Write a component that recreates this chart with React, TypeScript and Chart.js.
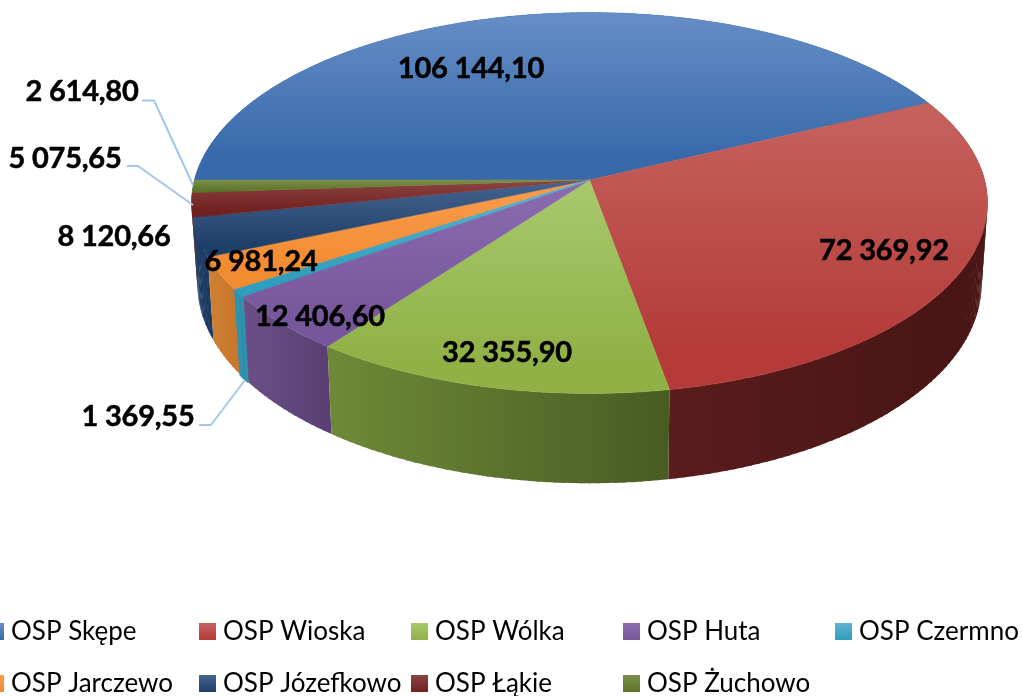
import React, { useEffect, useRef } from "react";
import { Chart, registerables } from "chart.js";

Chart.register(...registerables);

const categories = ["OSP Skępe", "OSP Wioska", "OSP Wólka", "OSP Huta", "OSP Czermno", "OSP Jarczewo", "OSP Józefkowo", "OSP Łąkie", "OSP Żuchowo"];
const amounts = [106144.1, 72369.92, 32355.9, 12406.6, 1369.55, 6981.24, 8120.66, 5075.65, 2614.8];
const valueLabels = ["106 144,10", "72 369,92", "32 355,90", "12 406,60", "1 369,55", "6 981,24", "8 120,66", "5 075,65", "2 614,80"];

// top-face gradient: light, dark
const topLight = ["#668ec6", "#c6635f", "#a8c96d", "#8c6cb0", "#5fb4cf", "#fa9d4e", "#45658f", "#8c4442", "#7b8f4a"];
const topDark = ["#386aab", "#b43b38", "#8fb146", "#77569c", "#2f9dbd", "#f28a30", "#1f3f6b", "#6f201f", "#5d7428"];
// side wall gradient: start of slice, end of slice (clockwise order)
const wallA = ["#2a4f80", "#4a1615", "#485b22", "#5a3f72", "#2c8ea8", "#c8782c", "#1c3a60", "#5a1a18", "#48591f"];
const wallB = ["#2a4f80", "#5a1c1c", "#6e8a38", "#6b5088", "#3092ad", "#d08033", "#1e3e66", "#5a1a18", "#48591f"];
// the thin Czermno slice carries a visible edge in the reference
const edgeWidth = [0, 0, 0, 0, 2.4, 0, 0, 0, 0];

const labelBoxes = [
  [471, 69], [884, 251], [507, 353], [320, 317], [138, 417], [261, 262], [114, 237], [65, 159], [82, 92],
];
const leaders: number[][][] = [
  [[199, 425], [211, 425], [245, 380]],
  [[127, 166], [138, 166], [193, 205]],
  [[142, 100.5], [154, 100.5], [193, 185]],
];
const legendCols = [-13, 199, 411, 623, 835];
const legendRows = [623, 675];

const APEX_X = 589.5, APEX_Y = 180, RX = 395.1, RY = 187.7, K = 0.1207, DEPTH = 80;
const project = (t: number, lower = false) => {
  const u = Math.cos(t), v = Math.sin(t), w = 1 - K * v;
  const x = (RX * u) / w, y = (RY * v) / w;
  return lower ? [APEX_X + x * 0.985, APEX_Y + y * 1.046 + DEPTH] : [APEX_X + x, APEX_Y + y];
};

const pie3d = {
  id: "pie3d",
  afterDatasetsDraw(chart: any) {
    const ctx: CanvasRenderingContext2D = chart.ctx;
    const arcs = chart.getDatasetMeta(0).data;
    const grads = arcs.map((arc: any, i: number) => {
      const a = project(arc.startAngle), b = project(arc.endAngle);
      const g = ctx.createLinearGradient(a[0], 0, b[0], 0);
      g.addColorStop(0, wallA[i]);
      g.addColorStop(1, wallB[i]);
      return g;
    });
    const segs: any[] = [];
    arcs.forEach((arc: any, i: number) => {
      const { startAngle: s, endAngle: e } = arc;
      const n = Math.max(2, Math.ceil((e - s) / 0.02));
      for (let j = 0; j < n; j++) {
        const a = s + ((e - s) * j) / n, b = s + ((e - s) * (j + 1)) / n;
        segs.push({ a, b: Math.min(e, b + 0.006), i });
      }
    });
    segs.sort((p, q) => Math.sin((p.a + p.b) / 2) - Math.sin((q.a + q.b) / 2));
    ctx.save();
    ctx.lineJoin = "round";
    const wallPath = (sg: any) => {
      const p1 = project(sg.a), p2 = project(sg.b), q2 = project(sg.b, true), q1 = project(sg.a, true);
      ctx.beginPath();
      ctx.moveTo(p1[0], p1[1]);
      ctx.lineTo(p2[0], p2[1]);
      ctx.lineTo(q2[0], q2[1]);
      ctx.lineTo(q1[0], q1[1]);
      ctx.closePath();
    };
    for (const sg of segs) {
      wallPath(sg);
      ctx.fillStyle = grads[sg.i];
      ctx.fill();
    }
    for (const sg of segs) {
      if (!edgeWidth[sg.i]) continue;
      wallPath(sg);
      ctx.fillStyle = grads[sg.i];
      ctx.strokeStyle = wallB[sg.i];
      ctx.lineWidth = edgeWidth[sg.i];
      ctx.fill();
      ctx.stroke();
    }
    const faceOrder = arcs.map((_: any, i: number) => i).sort((a: number, b: number) => edgeWidth[a] - edgeWidth[b]);
    faceOrder.forEach((i: number) => {
      const { startAngle: s, endAngle: e } = arcs[i];
      const n = Math.max(4, Math.ceil((e - s) / 0.005));
      const pts = [[APEX_X, APEX_Y]];
      for (let j = 0; j <= n; j++) pts.push(project(s + ((e - s) * j) / n));
      const ys = pts.map((p) => p[1]);
      const y0 = Math.min(...ys), y1 = Math.max(...ys);
      const g = ctx.createLinearGradient(0, y0, 0, y1);
      g.addColorStop(0, topLight[i]);
      g.addColorStop(0.85, topDark[i]);
      g.addColorStop(1, topDark[i]);
      ctx.beginPath();
      pts.forEach((p, idx) => (idx ? ctx.lineTo(p[0], p[1]) : ctx.moveTo(p[0], p[1])));
      ctx.closePath();
      ctx.fillStyle = g;
      ctx.strokeStyle = g;
      ctx.lineWidth = edgeWidth[i] ? 1.2 : 0.5;
      ctx.fill();
      ctx.stroke();
    });
    // leader lines
    ctx.strokeStyle = "#a3c7ec";
    ctx.lineWidth = 2;
    leaders.forEach((line) => {
      ctx.beginPath();
      line.forEach((p, idx) => (idx ? ctx.lineTo(p[0], p[1]) : ctx.moveTo(p[0], p[1])));
      ctx.stroke();
    });
    // value labels
    ctx.fillStyle = "#000";
    ctx.strokeStyle = "#000";
    ctx.lineWidth = 0.5;
    ctx.textAlign = "center";
    ctx.textBaseline = "middle";
    ctx.font = 'bold 29px Lato, "Open Sans", sans-serif';
    (ctx as any).letterSpacing = "-0.2px";
    valueLabels.forEach((t, i) => {
      ctx.fillText(t, labelBoxes[i][0], labelBoxes[i][1]);
      ctx.strokeText(t, labelBoxes[i][0], labelBoxes[i][1]);
    });
    (ctx as any).letterSpacing = "0px";
    // legend
    ctx.textAlign = "left";
    ctx.font = '26px Lato, "Open Sans", sans-serif';
    categories.forEach((c, i) => {
      const x = legendCols[i % 5], y = legendRows[Math.floor(i / 5)];
      const g = ctx.createLinearGradient(0, y, 0, y + 17);
      g.addColorStop(0, topLight[i]);
      g.addColorStop(1, topDark[i]);
      ctx.fillStyle = g;
      ctx.fillRect(x, y, 17, 17);
      ctx.fillStyle = "#000";
      ctx.fillText(c, x + 24, y + 9);
    });
    ctx.restore();
  },
};

export default function App() {
  const ref = useRef<HTMLCanvasElement>(null);
  useEffect(() => {
    const chart = new Chart(ref.current!, {
      type: "pie",
      data: {
        labels: categories,
        datasets: [{ data: amounts, backgroundColor: "rgba(0,0,0,0)", borderWidth: 0 }],
      },
      options: {
        responsive: false,
        animation: false,
        rotation: 270,
        plugins: { legend: { display: false }, tooltip: { enabled: false } },
      },
      plugins: [pie3d],
    } as any);
    return () => chart.destroy();
  }, []);
  return (
    <canvas
      ref={ref}
      width={1022}
      height={696}
      style={{ position: "fixed", left: 0, top: 0, width: 1022, height: 696, background: "#fff" }}
    />
  );
}
